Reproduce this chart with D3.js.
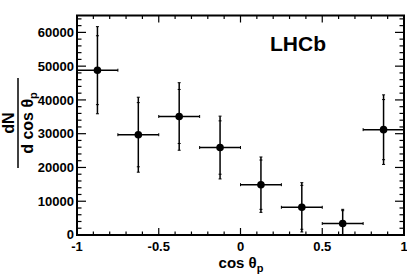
<!DOCTYPE html>
<html>
<head>
<meta charset="utf-8">
<script src="https://cdn.jsdelivr.net/npm/d3@7"></script>
<style>
  body { margin: 0; background: #fff; }
  svg { display: block; font-family: "Liberation Sans", Arial, sans-serif; font-weight: bold; }
</style>
</head>
<body>
<div id="chart"></div>
<script>
// bin centres and half widths in cos(theta_p)
const binCenters = [-0.875, -0.625, -0.375, -0.125, 0.125, 0.375, 0.625, 0.875];
const binHalfWidth = [0.125, 0.125, 0.125, 0.125, 0.125, 0.125, 0.125, 0.125];
// dN/dcos values
const yields = [48800, 29700, 35100, 25900, 14900, 8200, 3400, 31200];
// total error (outer caps) and statistical error (inner caps)
const errTotal = [12900, 11100, 10000, 9300, 8200, 7300, 4200, 10300];
const errStat = [10200, 9500, 8000, 7900, 7300, 6500, 3800, 8900];

const xTicks = [-1, -0.5, 0, 0.5, 1];
const yTicks = [0, 10000, 20000, 30000, 40000, 50000, 60000];

const width = 407, height = 277;
const margin = { left: 77, right: 3, top: 15.5, bottom: 42 };

const svg = d3.select("#chart").append("svg")
    .attr("width", width)
    .attr("height", height);

const x = d3.scaleLinear().domain([-1, 1]).range([margin.left, width - margin.right]);
const y = d3.scaleLinear().domain([0, 65000]).range([height - margin.bottom, margin.top]);

const x0 = x.range()[0], x1 = x.range()[1];
const y0 = y.range()[0], y1 = y.range()[1];

// ticks on all four sides, pointing inward
const yMinor = d3.range(0, 65000, 2000);
const xMinor = d3.range(-10, 11).map(d => d / 10);

const ticks = svg.append("g").attr("stroke", "#000").attr("stroke-width", 1.2);
yMinor.forEach(v => {
    const len = v % 10000 === 0 ? 9 : 4.5;
    ticks.append("line").attr("x1", x0).attr("x2", x0 + len).attr("y1", y(v)).attr("y2", y(v));
    ticks.append("line").attr("x1", x1).attr("x2", x1 - len).attr("y1", y(v)).attr("y2", y(v));
});
xMinor.forEach(v => {
    const len = Math.abs(v * 2 - Math.round(v * 2)) < 1e-6 ? 7 : 3.5;
    ticks.append("line").attr("x1", x(v)).attr("x2", x(v)).attr("y1", y0).attr("y2", y0 - len);
    ticks.append("line").attr("x1", x(v)).attr("x2", x(v)).attr("y1", y1).attr("y2", y1 + len);
});

// frame
svg.append("rect")
    .attr("x", x0).attr("y", y1)
    .attr("width", x1 - x0).attr("height", y0 - y1)
    .attr("fill", "none").attr("stroke", "#000").attr("stroke-width", 2);

// tick labels
svg.append("g").selectAll("text").data(yTicks).join("text")
    .attr("x", x0 - 3)
    .attr("y", d => y(d) - (d === 0 ? 1 : 0))
    .attr("dy", "0.36em")
    .attr("text-anchor", "end")
    .attr("font-size", 13)
    .text(d => d);

svg.append("g").selectAll("text").data(xTicks).join("text")
    .attr("x", d => x(d))
    .attr("y", 250.5)
    .attr("text-anchor", "middle")
    .attr("font-size", 13)
    .text(d => d);

// axis titles
const xt = svg.append("text")
    .attr("x", 241).attr("y", 268)
    .attr("text-anchor", "middle")
    .attr("font-size", 15);
xt.append("tspan").text("cos θ");
xt.append("tspan").attr("font-size", 11).attr("dy", 4).text("p");

const yt = svg.append("g").attr("transform", "translate(18,123) rotate(-90)");
yt.append("text").attr("x", 0).attr("y", -4).attr("text-anchor", "middle")
    .attr("font-size", 16).text("dN");
yt.append("line").attr("x1", -45).attr("x2", 45).attr("y1", 0).attr("y2", 0)
    .attr("stroke", "#000").attr("stroke-width", 1.5);
const den = yt.append("text").attr("x", 0).attr("y", 15).attr("text-anchor", "middle")
    .attr("font-size", 16);
den.append("tspan").text("d cos θ");
den.append("tspan").attr("font-size", 11).attr("dy", 4).text("p");

// LHCb label
svg.append("text")
    .attr("x", 270).attr("y", 51)
    .attr("font-size", 21)
    .text("LHCb");

// data points with error bars
const pts = binCenters.map((c, i) => ({
    c, hw: binHalfWidth[i], v: yields[i], et: errTotal[i], es: errStat[i]
}));

const clipY = v => Math.max(0, Math.min(65000, v));
const g = svg.append("g").attr("stroke", "#000").attr("stroke-width", 1.5);
pts.forEach(p => {
    const cx = x(p.c), cy = y(p.v);
    g.append("line").attr("x1", x(p.c - p.hw)).attr("x2", x(p.c + p.hw)).attr("y1", cy).attr("y2", cy);
    g.append("line").attr("x1", cx).attr("x2", cx).attr("y1", y(clipY(p.v - p.et))).attr("y2", y(clipY(p.v + p.et)));
    // horizontal caps
    [p.c - p.hw, p.c + p.hw].forEach(e => {
        g.append("line").attr("x1", x(e)).attr("x2", x(e)).attr("y1", cy - 1.5).attr("y2", cy + 1.5).attr("stroke-width", 1);
    });
    // vertical caps (total and stat)
    [p.v - p.et, p.v + p.et, p.v - p.es, p.v + p.es].forEach(e => {
        if (e <= 0) return;
        g.append("line").attr("x1", cx - 1.5).attr("x2", cx + 1.5).attr("y1", y(e)).attr("y2", y(e)).attr("stroke-width", 1);
    });
});
svg.append("g").selectAll("circle").data(pts).join("circle")
    .attr("cx", d => x(d.c))
    .attr("cy", d => y(d.v))
    .attr("r", 3.8)
    .attr("fill", "#000");
</script>
</body>
</html>
